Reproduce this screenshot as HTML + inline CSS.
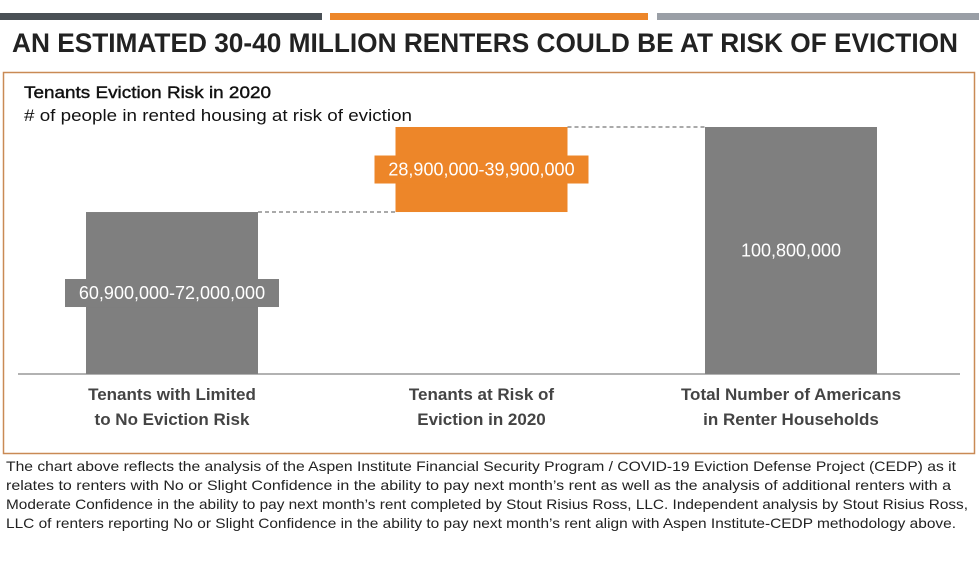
<!DOCTYPE html>
<html><head><meta charset="utf-8"><style>
body{margin:0;background:#fff;width:979px;height:563px;overflow:hidden;font-family:"Liberation Sans",sans-serif}
svg{display:block}
</style></head><body>
<svg id="c" width="979" height="563" xmlns="http://www.w3.org/2000/svg">
<rect x="0" y="13" width="322" height="7" fill="#4a5055"/>
<rect x="330" y="13" width="318" height="7" fill="#ed8629"/>
<rect x="657" y="13" width="322" height="7" fill="#9a9fa6"/>
<text x="12" y="52" font-size="27" font-weight="bold" fill="#222" textLength="946" lengthAdjust="spacingAndGlyphs">AN ESTIMATED 30-40 MILLION RENTERS COULD BE AT RISK OF EVICTION</text>
<rect x="3.5" y="72.5" width="971" height="381" fill="none" stroke="#c98a55" stroke-width="1.5"/>
<text x="24" y="98" font-size="17" fill="#111" stroke="#111" stroke-width="0.4" textLength="247" lengthAdjust="spacingAndGlyphs">Tenants Eviction Risk in 2020</text>
<text x="24" y="121" font-size="17" fill="#111" textLength="388" lengthAdjust="spacingAndGlyphs"># of people in rented housing at risk of eviction</text>
<line x1="18" y1="374" x2="960" y2="374" stroke="#666" stroke-width="1"/>
<g id="bars"></g>
<g font-size="14" fill="#222" lengthAdjust="spacingAndGlyphs">
<text x="6" y="471" textLength="950" lengthAdjust="spacingAndGlyphs">The chart above reflects the analysis of the Aspen Institute Financial Security Program / COVID-19 Eviction Defense Project (CEDP) as it</text>
<text x="6" y="490" textLength="945" lengthAdjust="spacingAndGlyphs">relates to renters with No or Slight Confidence in the ability to pay next month’s rent as well as the analysis of additional renters with a</text>
<text x="6" y="509" textLength="962" lengthAdjust="spacingAndGlyphs">Moderate Confidence in the ability to pay next month’s rent completed by Stout Risius Ross, LLC. Independent analysis by Stout Risius Ross,</text>
<text x="6" y="528" textLength="950" lengthAdjust="spacingAndGlyphs">LLC of renters reporting No or Slight Confidence in the ability to pay next month’s rent align with Aspen Institute-CEDP methodology above.</text>
</g>
</svg>
<script>
const categories=[["Tenants with Limited","to No Eviction Risk"],["Tenants at Risk of","Eviction in 2020"],["Total Number of Americans","in Renter Households"]];
const barValues=[66.1,34.7,100.8];
const valueLabels=["60,900,000-72,000,000","28,900,000-39,900,000","100,800,000"];
const NS="http://www.w3.org/2000/svg";
const g=document.getElementById('bars');
const base=374, top0=127, maxV=100.8;
function y(v){return base-(v/maxV)*(base-top0);}
function xc(i){return 172+i*309.5;}
const bw=172;
function mk(t,a){const e=document.createElementNS(NS,t);for(const k in a)e.setAttribute(k,a[k]);g.appendChild(e);return e;}
const starts=[0,barValues[0],0];
const ends=[barValues[0],barValues[0]+barValues[1],barValues[2]];
const colors=["#7f7f7f","#ed8629","#7f7f7f"];
for(let i=0;i<3;i++){
  const y1=y(ends[i]),y0=y(starts[i]);
  const r=mk('rect',{x:xc(i)-bw/2,y:y1,width:bw,height:y0-y1,fill:colors[i]});
  
  
  const mid=(y1+y0)/2;
  if(i<2){
    const lb=mk('rect',{x:xc(i)-107,y:mid-14,width:214,height:28,fill:colors[i]});
    
    
  }
  const t=mk('text',{x:xc(i),y:mid+6,'font-size':18,fill:'#fff','text-anchor':'middle'});
  t.textContent=valueLabels[i];
  
  
  categories[i].forEach((ln,j)=>{
    const c=mk('text',{x:xc(i),y:400+j*25,'font-size':17,'font-weight':'bold',fill:'#444','text-anchor':'middle'});
    c.textContent=ln;
    
    
  });
}
for(let i=0;i<2;i++){
  const yy=y(ends[i]);
  const l=mk('line',{x1:xc(i)+bw/2,y1:yy,x2:xc(i+1)-bw/2,y2:yy,stroke:'#555','stroke-dasharray':'4,3','stroke-width':1});
  
  
}
</script>
</body></html>
